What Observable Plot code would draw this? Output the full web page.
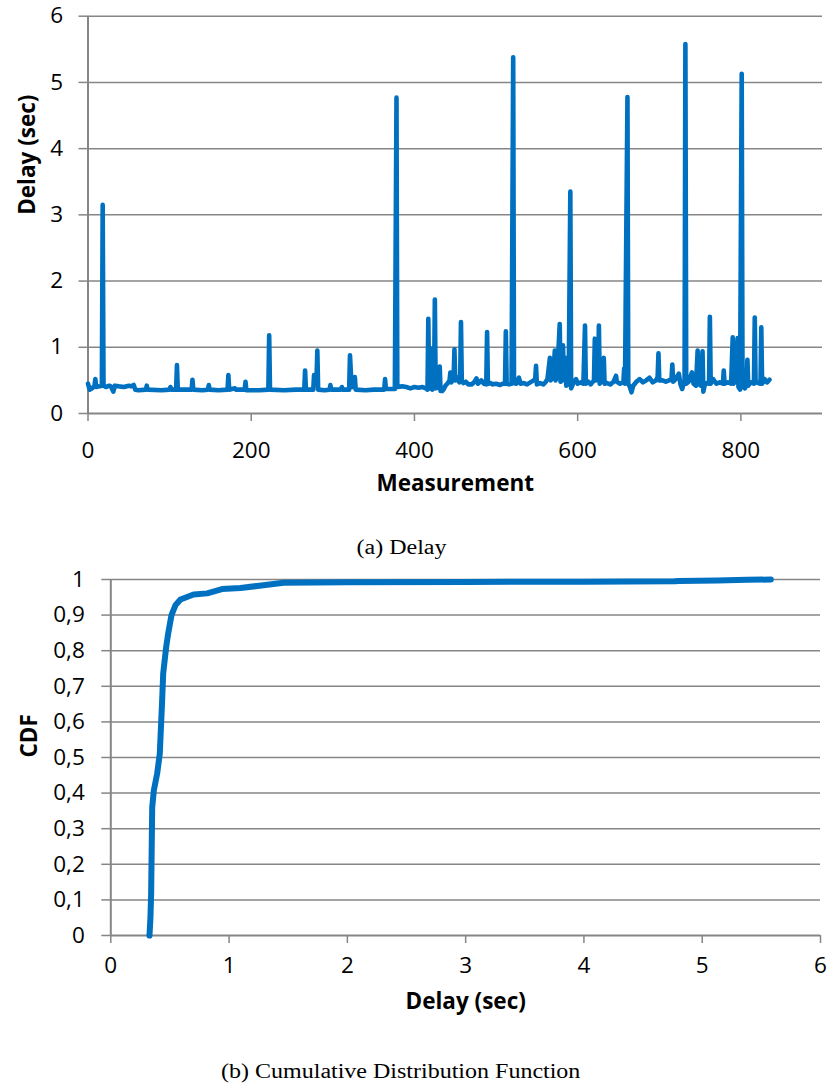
<!DOCTYPE html>
<html><head><meta charset="utf-8">
<script src="https://cdn.jsdelivr.net/npm/d3@7"></script>
<script src="https://cdn.jsdelivr.net/npm/@observablehq/plot@0.6"></script>
<style>
body{margin:0;background:#fff;}
#wrap{position:relative;width:827px;height:1085px;overflow:hidden;background:#fff;}
#top{position:absolute;left:0;top:0;}
#bottom{position:absolute;left:0;top:560px;}
.cap{position:absolute;left:0;width:802px;text-align:center;font-family:"Liberation Serif","Times New Roman",serif;font-size:20px;color:#000;line-height:22px;}
.cap span{display:inline-block;transform:scaleX(1.2);}
</style></head>
<body>
<div id="wrap">
  <div id="top"></div>
  <div class="cap" style="top:536px"><span>(a) Delay</span></div>
  <div id="bottom"></div>
  <div class="cap" style="top:1060px"><span>(b) Cumulative Distribution Function</span></div>
</div>
<script>
const measurement = [0,2,5,8,9,10,14,17,18,19,22,26,28,31,33,38,44,50,53,56,58,62,71,72,73,90,100,101,102,108,109,110,127,128,129,140,147,148,149,160,171,172,173,180,181,192,193,194,210,221,222,223,240,255,265,266,267,276,277,278,280,281,282,290,296,297,298,310,311,312,320,321,323,326,327,328,340,350,363,364,365,376,378,379,385,390,395,400,405,410,414,416,417,418,420,421,422,424,425,426,428,430,431,432,434,436,438,441,443,444,445,448,449,450,452,455,456,457,458,460,463,466,470,473,476,478,482,485,488,489,490,493,496,500,505,508,511,512,513,516,519,521,522,525,528,530,534,538,542,546,548,549,550,554,558,561,563,566,567,570,572,573,575,578,579,581,582,583,585,586,589,591,592,595,598,600,604,607,609,610,613,616,620,621,622,625,626,627,630,632,633,636,640,644,647,648,652,656,657,658,661,662,664,666,668,672,676,680,684,688,692,696,698,699,700,704,708,712,715,716,717,720,724,726,728,731,732,733,736,740,742,745,747,748,751,753,754,756,758,761,762,763,766,770,774,778,779,780,784,788,790,791,793,796,797,799,801,802,805,807,808,809,812,816,817,818,821,824,825,826,829,832,835];
const delay = [0.45,0.36,0.38,0.42,0.52,0.40,0.41,0.42,3.15,0.42,0.40,0.42,0.41,0.33,0.42,0.41,0.40,0.42,0.41,0.43,0.36,0.35,0.36,0.42,0.36,0.35,0.36,0.40,0.36,0.36,0.73,0.36,0.36,0.51,0.36,0.35,0.36,0.43,0.36,0.35,0.36,0.58,0.36,0.38,0.36,0.36,0.48,0.35,0.35,0.36,1.18,0.36,0.35,0.36,0.36,0.65,0.36,0.36,0.58,0.45,0.50,0.95,0.36,0.35,0.36,0.43,0.36,0.36,0.40,0.36,0.36,0.88,0.40,0.40,0.55,0.36,0.35,0.36,0.36,0.52,0.37,0.37,4.77,0.40,0.41,0.40,0.38,0.40,0.39,0.40,0.38,0.36,1.43,0.38,0.38,0.98,0.36,0.40,1.72,0.38,0.40,0.38,0.71,0.34,0.34,0.37,0.42,0.46,0.50,0.62,0.47,0.52,0.97,0.50,0.55,0.47,0.50,1.38,0.50,0.46,0.48,0.44,0.44,0.47,0.53,0.45,0.50,0.45,0.44,1.23,0.45,0.46,0.44,0.45,0.43,0.45,0.45,1.24,0.45,0.44,0.45,5.38,0.46,0.45,0.54,0.45,0.46,0.44,0.47,0.50,0.52,0.72,0.44,0.46,0.44,0.48,0.52,0.84,0.50,0.56,0.95,0.50,0.58,1.35,0.48,0.50,1.03,0.55,0.84,0.42,0.45,3.35,0.38,0.47,0.52,0.45,0.47,0.45,1.33,0.45,0.48,0.44,0.50,1.13,0.50,0.52,1.33,0.45,0.50,0.84,0.45,0.46,0.44,0.48,0.57,0.48,0.45,0.47,0.68,0.45,4.78,0.45,0.40,0.32,0.42,0.48,0.52,0.47,0.50,0.54,0.47,0.50,0.55,0.91,0.50,0.50,0.48,0.50,0.52,0.74,0.48,0.52,0.60,0.44,0.37,0.50,5.58,0.45,0.48,0.62,0.45,0.42,0.95,0.45,0.42,0.94,0.33,0.45,0.46,0.45,1.46,0.45,0.52,0.45,0.47,0.45,0.65,0.45,0.47,0.45,1.15,0.45,0.50,1.14,0.40,0.36,5.13,0.42,0.38,0.46,0.81,0.42,0.47,0.45,1.45,0.48,0.46,0.45,1.30,0.45,0.52,0.47,0.51];

// ---- Data: (b) CDF of delay ----
const cdfDelay = [0.327,0.335,0.341,0.350,0.364,0.392,0.414,0.434,0.443,0.468,0.485,0.513,0.547,0.589,0.700,0.815,0.940,1.096,1.290,1.460,2.0,3.0,4.0,4.77,4.80,5.13,5.38,5.58];
const cdfValue = [0,0.05,0.117,0.36,0.408,0.455,0.51,0.66,0.736,0.81,0.848,0.9,0.928,0.944,0.958,0.961,0.973,0.976,0.984,0.991,0.992,0.993,0.994,0.995,0.996,0.997,0.999,1.0];

// ---- Tick labels ----
const delayTicksA = [0,1,2,3,4,5,6];
const measTicks = [0,200,400,600,800];
const cdfTicks = [0,0.1,0.2,0.3,0.4,0.5,0.6,0.7,0.8,0.9,1];
const delayTicksB = [0,1,2,3,4,5,6];

const BLUE = "#0070C0";
const GRID = "#868686";
const FONT = "'Open Sans', 'DejaVu Sans', sans-serif";

const seriesA = measurement.map((m, i) => ({m, d: delay[i]}));
const seriesB = cdfDelay.map((x, i) => ({x, c: cdfValue[i]}));

const topPlot = Plot.plot({
  width: 827, height: 520,
  marginLeft: 87.5, marginRight: 5, marginTop: 15.7, marginBottom: 107,
  style: {fontFamily: FONT, fontSize: "22px", color: "#000", background: "transparent"},
  x: {domain: [0, 900]},
  y: {domain: [0, 6]},
  marks: [
    Plot.gridY(delayTicksA.filter(d => d > 0), {stroke: GRID, strokeOpacity: 1, strokeWidth: 1.5}),
    Plot.ruleY([0], {stroke: GRID, strokeWidth: 2}),
    Plot.ruleX([0], {stroke: GRID, strokeWidth: 2}),
    Plot.axisY(delayTicksA, {tickSize: 9, tickPadding: 16, stroke: GRID, strokeWidth: 1.5, fill: "#000", fontSize: 22.5, label: null, tickFormat: d => String(d)}),
    Plot.axisX(measTicks, {tickSize: 8, tickPadding: 21, stroke: GRID, strokeWidth: 1.5, fill: "#000", fontSize: 22.5, label: null, tickFormat: d => String(d)}),
    Plot.line(seriesA, {x: "m", y: "d", stroke: BLUE, strokeWidth: 4.6, strokeLinejoin: "round", strokeLinecap: "round"}),
    Plot.text(["Delay (sec)"], {text: d => d, frameAnchor: "left", dx: -60.5, rotate: -90, fontWeight: "bold", fontSize: 22.5, fill: "#000"}),
    Plot.text(["Measurement"], {text: d => d, frameAnchor: "bottom", dy: 77, fontWeight: "bold", fontSize: 22.5, fill: "#000"})
  ]
});
document.getElementById("top").appendChild(topPlot);

const botPlot = Plot.plot({
  width: 827, height: 480,
  marginLeft: 110.3, marginRight: 7, marginTop: 19, marginBottom: 105,
  style: {fontFamily: FONT, fontSize: "22px", color: "#000", background: "transparent"},
  x: {domain: [0, 6]},
  y: {domain: [0, 1]},
  marks: [
    Plot.gridY(cdfTicks.filter(d => d > 0), {stroke: GRID, strokeOpacity: 1, strokeWidth: 1.5}),
    Plot.ruleY([0], {stroke: GRID, strokeWidth: 2}),
    Plot.ruleX([0], {stroke: GRID, strokeWidth: 2}),
    Plot.axisY(cdfTicks, {tickSize: 9, tickPadding: 17, stroke: GRID, strokeWidth: 1.5, fill: "#000", fontSize: 22.5, label: null, tickFormat: d => String(d).replace(".", ",")}),
    Plot.axisX(delayTicksB, {tickSize: 8, tickPadding: 14, stroke: GRID, strokeWidth: 1.5, fill: "#000", fontSize: 22.5, label: null, tickFormat: d => String(d)}),
    Plot.line(seriesB, {x: "x", y: "c", stroke: BLUE, strokeWidth: 6, strokeLinejoin: "round", strokeLinecap: "round"}),
    Plot.text(["CDF"], {text: d => d, frameAnchor: "left", dx: -80.8, rotate: -90, fontWeight: "bold", fontSize: 22.5, fill: "#000"}),
    Plot.text(["Delay (sec)"], {text: d => d, frameAnchor: "bottom", dy: 73, fontWeight: "bold", fontSize: 22.5, fill: "#000"})
  ]
});
document.getElementById("bottom").appendChild(botPlot);
</script>
</body></html>
